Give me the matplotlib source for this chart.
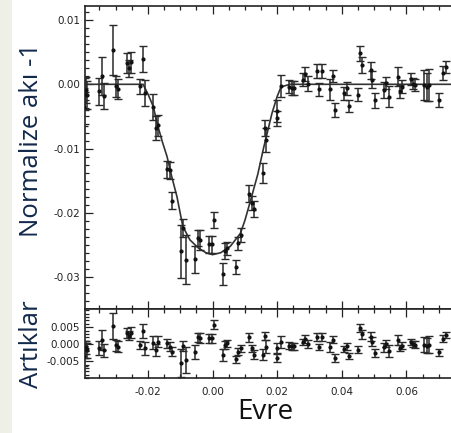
import numpy as np
import matplotlib
matplotlib.use("Agg")
import matplotlib.pyplot as plt
from matplotlib.ticker import MultipleLocator, AutoMinorLocator, FormatStrFormatter
from matplotlib.patches import Rectangle

# ---- data ----
phase = [-0.0398, -0.0396, -0.0393, -0.0388, -0.0351, -0.0343, -0.0336, -0.0307, -0.0300, -0.0292,
         -0.0265, -0.0258, -0.0251, -0.0224, -0.0216, -0.0210, -0.0183, -0.0176, -0.0168, -0.0140,
         -0.0133, -0.0125, -0.0098, -0.0090, -0.0083, -0.0053, -0.0046, -0.0039, -0.0010, -0.0003,
         0.0004, 0.0031, 0.0038, 0.0045, 0.0073, 0.0080, 0.0087, 0.0114, 0.0121, 0.0128,
         0.0155, 0.0162, 0.0166, 0.0199, 0.0200, 0.0212, 0.0238, 0.0245, 0.0253, 0.0281,
         0.0286, 0.0295, 0.0322, 0.0330, 0.0338, 0.0364, 0.0372, 0.0379, 0.0408, 0.0415,
         0.0422, 0.0450, 0.0456, 0.0463, 0.0489, 0.0495, 0.0504, 0.0530, 0.0537, 0.0545,
         0.0573, 0.0579, 0.0585, 0.0613, 0.0620, 0.0628, 0.0655, 0.0663, 0.0670, 0.0701,
         0.0714, 0.0722]
flux = [-0.0035, -0.0015, -0.0009, -0.0017, -0.0011, 0.0013, -0.0018, 0.0054, -0.0003, -0.0007,
        0.0033, 0.0025, 0.0034, -0.0003, 0.0039, -0.0014, -0.0035, -0.0068, -0.0064, -0.0132,
        -0.0134, -0.0181, -0.0260, -0.0223, -0.0273, -0.0272, -0.0239, -0.0242, -0.0249, -0.0249,
        -0.0211, -0.0295, -0.0259, -0.0255, -0.0284, -0.0247, -0.0234, -0.0170, -0.0185, -0.0194,
        -0.0138, -0.0068, -0.0087, -0.0041, -0.0053, -0.0003, -0.0004, -0.0006, -0.0006, 0.0007,
        0.0016, 0.0001, 0.0021, -0.0008, 0.0021, -0.0008, 0.0013, -0.0040, -0.0014, -0.0006,
        -0.0034, -0.0016, 0.0048, 0.0030, 0.0022, 0.0007, -0.0025, -0.0009, 0.0002, -0.0019,
        0.0012, -0.0011, -0.0004, 0.0008, 0.0001, -0.0001, -0.0001, -0.0004, -0.0001, -0.0024,
        0.0017, 0.0027]
flux_err = [0.0030, 0.0025, 0.0020, 0.0022, 0.0021, 0.0030, 0.0020, 0.0039, 0.0016, 0.0016,
            0.0015, 0.0013, 0.0016, 0.0012, 0.0020, 0.0020, 0.0020, 0.0018, 0.0017, 0.0013,
            0.0013, 0.0013, 0.0041, 0.0014, 0.0038, 0.0021, 0.0013, 0.0015, 0.0013, 0.0013,
            0.0013, 0.0017, 0.0012, 0.0010, 0.0011, 0.0010, 0.0011, 0.0013, 0.0011, 0.0013,
            0.0016, 0.0012, 0.0019, 0.0017, 0.0012, 0.0017, 0.0010, 0.0011, 0.0011, 0.0010,
            0.0011, 0.0012, 0.0011, 0.0010, 0.0011, 0.0016, 0.0010, 0.0011, 0.0010, 0.0010,
            0.0009, 0.0010, 0.0011, 0.0013, 0.0013, 0.0013, 0.0012, 0.0013, 0.0010, 0.0017,
            0.0015, 0.0010, 0.0010, 0.0009, 0.0009, 0.0010, 0.0023, 0.0022, 0.0025, 0.0011,
            0.0011, 0.0009]
resid = [-0.0035, -0.0015, -0.0009, -0.0017, -0.0011, 0.0013, -0.0018, 0.0054, -0.0003, -0.0007,
         0.0033, 0.0025, 0.0034, -0.0003, 0.0039, -0.0012, 0.0005, -0.0017, 0.0008, 0.0003,
         -0.0007, -0.0022, -0.0056, -0.0005, -0.0046, -0.0022, 0.0021, 0.0018, 0.0018, 0.0018,
         0.0057, -0.0031, -0.0002, 0.0003, -0.0044, -0.0022, -0.0012, 0.0021, -0.0012, -0.0031,
         -0.0031, 0.0024, -0.0007, -0.0012, -0.0039, 0.0006, -0.0004, -0.0006, -0.0006, 0.0007,
         0.0016, 0.0001, 0.0021, -0.0008, 0.0021, -0.0008, 0.0013, -0.0040, -0.0014, -0.0006,
         -0.0034, -0.0016, 0.0048, 0.0030, 0.0022, 0.0007, -0.0025, -0.0009, 0.0002, -0.0019,
         0.0012, -0.0011, -0.0004, 0.0008, 0.0001, -0.0001, -0.0001, -0.0004, -0.0001, -0.0024,
         0.0017, 0.0027]

model_phase = [-0.0400, -0.0215, -0.0200, -0.0183, -0.0172, -0.0155, -0.0141, -0.0126, -0.0110,
               -0.0092, -0.0070, -0.0043, -0.0020, 0.0000, 0.0025, 0.0055, 0.0086, 0.0100,
               0.0117, 0.0140, 0.0158, 0.0172, 0.0184, 0.0200, 0.0212, 0.0240, 0.0745]
model_flux = [0.0, 0.0, -0.0015, -0.0035, -0.0060, -0.0090, -0.0112, -0.0144, -0.0175,
              -0.0221, -0.0242, -0.0255, -0.0262, -0.0265, -0.0262, -0.0252, -0.0232, -0.0212,
              -0.0182, -0.0140, -0.0099, -0.0070, -0.0045, -0.0019, -0.0004, 0.0, 0.0]

xticks = [-0.02, 0.00, 0.02, 0.04, 0.06]
yticks_top = [0.01, 0.00, -0.01, -0.02, -0.03]
yticks_bot = [0.005, 0.000, -0.005]

# ---- figure ----
W, H = 451, 433
fig = plt.figure(figsize=(W / 100, H / 100), dpi=100)
fig.patch.set_facecolor("white")
fig.add_artist(Rectangle((0, 0), 12 / W, 1, transform=fig.transFigure,
                         facecolor="#eef0e7", edgecolor="none", zorder=0))

left = 85 / W
ax1 = fig.add_axes([left, 1 - 309 / H, 1 - left + 0.01, (309 - 6) / H])
ax2 = fig.add_axes([left, 1 - 378.3 / H, 1 - left + 0.01, (378.3 - 309) / H], sharex=ax1)

ekw = dict(fmt="o", ms=2.0, color="#111111", ecolor="#2a2a2a", elinewidth=1.1,
           capsize=2.6, capthick=1.0, zorder=3)
ax1.errorbar(phase, flux, yerr=flux_err, **ekw)
ax1.plot(model_phase, model_flux, color="#333333", lw=1.2, zorder=2)
ax2.errorbar(phase, resid, yerr=flux_err, **ekw)

ax1.set_xlim(-0.03947, 0.0752)
ax1.set_ylim(-0.03495, 0.01218)
ax2.set_ylim(-0.0100, 0.01038)

for ax in (ax1, ax2):
    ax.set_xticks(xticks)
    ax.xaxis.set_minor_locator(MultipleLocator(0.005))
    ax.tick_params(which="both", direction="in", top=True, right=False,
                   labelsize=7.5, colors="#222222", width=0.9)
    ax.tick_params(which="major", length=6)
    ax.tick_params(which="minor", length=3)
    for s in ax.spines.values():
        s.set_linewidth(1.2)
        s.set_color("#222222")
    ax.spines["right"].set_visible(False)

ax1.set_yticks(yticks_top)
ax1.yaxis.set_minor_locator(AutoMinorLocator(8))
ax1.yaxis.set_major_formatter(FormatStrFormatter("%.2f"))
ax1.tick_params(labelbottom=False)

ax2.set_yticks(yticks_bot)
ax2.yaxis.set_minor_locator(AutoMinorLocator(5))
ax2.yaxis.set_major_formatter(FormatStrFormatter("%.3f"))
ax2.xaxis.set_major_formatter(FormatStrFormatter("%.2f"))
ax2.tick_params(axis="x", pad=6)

lab_color = "#13294b"
fig.text(32 / W, 1 - 140 / H, "Normalize akı -1", rotation=90, ha="center", va="center",
         fontsize=18.5, color=lab_color, family=["Open Sans", "DejaVu Sans"])
fig.text(32 / W, 1 - 344 / H, "Artıklar", rotation=90, ha="center", va="center",
         fontsize=18.5, color=lab_color, family=["Open Sans", "DejaVu Sans"])
fig.text(265 / W, 1 - 412 / H, "Evre", ha="center", va="center",
         fontsize=20, color="#111111", family=["Open Sans", "DejaVu Sans"])

fig.savefig("out.png", dpi=100, facecolor=fig.get_facecolor())
